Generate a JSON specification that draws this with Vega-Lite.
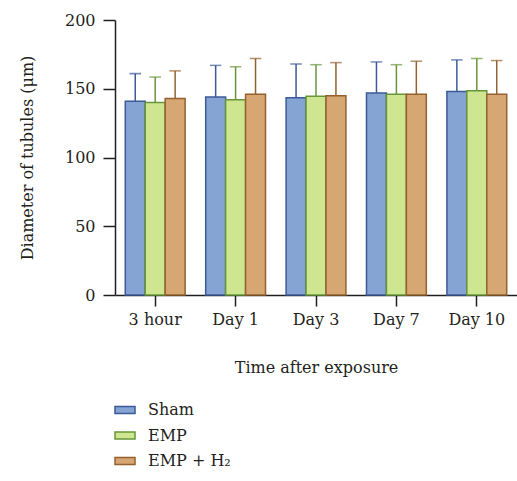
{
  "$schema": "https://vega.github.io/schema/vega-lite/v6.json",
  "width": 402,
  "height": 275,
  "autosize": {"type": "none"},
  "padding": {"left": 115, "top": 20, "right": 0, "bottom": 186},
  "background": "white",
  "config": {
    "view": {"stroke": null},
    "font": "DejaVu Serif",
    "axis": {"labelFont": "DejaVu Serif", "titleFont": "DejaVu Serif", "labelFontSize": 16, "titleFontSize": 16, "labelColor": "#231f20", "titleColor": "#231f20", "titleFontWeight": "normal", "domainColor": "#231f20", "tickColor": "#231f20", "domainWidth": 1.5, "tickWidth": 1.5, "grid": false},
    "legend": {"title": null, "orient": "none", "legendX": -1, "legendY": 379, "padding": 0, "labelFont": "DejaVu Serif", "labelFontSize": 16, "labelColor": "#231f20", "labelOffset": 12, "rowPadding": 6.5, "symbolType": "M-1,-0.35L1,-0.35L1,0.35L-1,0.35Z", "symbolSize": 400, "symbolStrokeWidth": 1.5}
  },
  "data": {
    "values": [
      {"time": "3 hour", "group": "Sham", "mean": 141, "upper": 161},
      {"time": "3 hour", "group": "EMP", "mean": 140, "upper": 158.5},
      {"time": "3 hour", "group": "EMP + H₂", "mean": 143, "upper": 163},
      {"time": "Day 1", "group": "Sham", "mean": 144, "upper": 167},
      {"time": "Day 1", "group": "EMP", "mean": 142, "upper": 166},
      {"time": "Day 1", "group": "EMP + H₂", "mean": 146, "upper": 172},
      {"time": "Day 3", "group": "Sham", "mean": 143.5, "upper": 168},
      {"time": "Day 3", "group": "EMP", "mean": 144.5, "upper": 167.5},
      {"time": "Day 3", "group": "EMP + H₂", "mean": 145, "upper": 169},
      {"time": "Day 7", "group": "Sham", "mean": 147, "upper": 169.5},
      {"time": "Day 7", "group": "EMP", "mean": 146, "upper": 167.5},
      {"time": "Day 7", "group": "EMP + H₂", "mean": 146, "upper": 170},
      {"time": "Day 10", "group": "Sham", "mean": 148, "upper": 171},
      {"time": "Day 10", "group": "EMP", "mean": 148.5, "upper": 172},
      {"time": "Day 10", "group": "EMP + H₂", "mean": 146, "upper": 170.5}
    ]
  },
  "encoding": {
    "x": {
      "field": "time", "type": "nominal",
      "sort": ["3 hour", "Day 1", "Day 3", "Day 7", "Day 10"],
      "scale": {"paddingInner": 0.256, "paddingOuter": 0.128},
      "axis": {"title": "Time after exposure", "labelAngle": 0, "tickSize": 11, "labelPadding": 5, "titleY": 72, "titleBaseline": "middle"}
    },
    "xOffset": {
      "field": "group", "type": "nominal",
      "sort": ["Sham", "EMP", "EMP + H₂"],
      "scale": {"paddingInner": 0, "paddingOuter": 0}
    }
  },
  "layer": [
    {
      "mark": {"type": "bar", "strokeWidth": 1.5},
      "encoding": {
        "y": {
          "field": "mean", "type": "quantitative",
          "scale": {"domain": [0, 200], "nice": false},
          "axis": {"title": "Diameter of tubules (μm)", "values": [0, 50, 100, 150, 200], "tickSize": 12, "labelPadding": 8, "titleX": -88, "titleY": 137.5, "titleAngle": -90, "titleBaseline": "middle", "titleAlign": "center"}
        },
        "fill": {
          "field": "group", "type": "nominal", "sort": ["Sham", "EMP", "EMP + H₂"],
          "scale": {"domain": ["Sham", "EMP", "EMP + H₂"], "range": ["#85a4d4", "#cee68f", "#d7a773"]}
        },
        "stroke": {
          "field": "group", "type": "nominal", "sort": ["Sham", "EMP", "EMP + H₂"],
          "scale": {"domain": ["Sham", "EMP", "EMP + H₂"], "range": ["#3b5a97", "#67963a", "#94612e"]}
        }
      }
    },
    {
      "mark": {"type": "rule", "strokeWidth": 1.5},
      "encoding": {
        "y": {"field": "mean", "type": "quantitative"},
        "y2": {"field": "upper"},
        "stroke": {"field": "group", "type": "nominal", "sort": ["Sham", "EMP", "EMP + H₂"]}
      }
    },
    {
      "mark": {"type": "tick", "filled": false, "thickness": 0.01, "size": 10, "strokeWidth": 1.5, "orient": "horizontal"},
      "encoding": {
        "y": {"field": "upper", "type": "quantitative"},
        "stroke": {"field": "group", "type": "nominal", "sort": ["Sham", "EMP", "EMP + H₂"]}
      }
    }
  ]
}
